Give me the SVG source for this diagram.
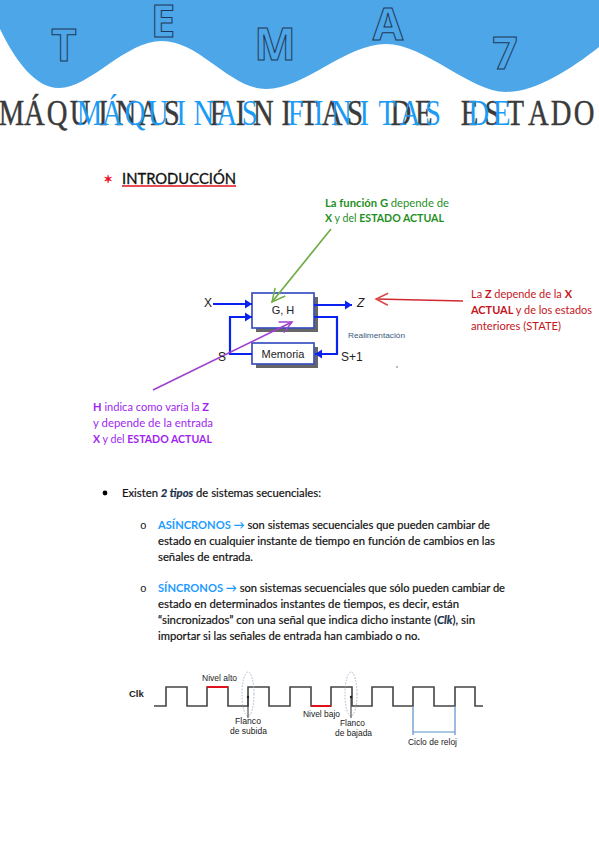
<svg xmlns="http://www.w3.org/2000/svg" width="599" height="848" viewBox="0 0 599 848">
<style>
text{font-family:"Lato","Noto Sans","Liberation Sans",sans-serif;font-size:11.5px;fill:#111;stroke:currentColor;stroke-width:0}
.big{font-family:"Noto Sans","Open Sans",sans-serif;font-size:44px;font-weight:700;fill:#4da6e8;stroke:#1f3a58;stroke-width:1;text-anchor:middle}
.ttl{font-family:"Liberation Serif",serif;font-size:35px;text-anchor:middle}
.b{font-weight:700}
.g{fill:#1f8f1f}.r{fill:#c3161c}.p{fill:#a11ff0}.c{fill:#1e9bff;font-weight:700}
.n{fill:#17365d;font-weight:700;font-style:italic}
.a{font-family:"Liberation Sans",Arial,sans-serif;fill:#222}
.d{stroke:#111;stroke-width:.2}
.box{fill:#fff;stroke:#3a4fc0;stroke-width:1.7}
.sh{fill:#666}
.w{fill:none;stroke:#0a22f0;stroke-width:2.2}
.clk{fill:none;stroke:#444;stroke-width:1.6}
.red{fill:none;stroke:#e0101c;stroke-width:2}
.oval{fill:none;stroke:#aab4cc;stroke-width:1;stroke-dasharray:1.5 1.5}
.cyc{fill:none;stroke:#5b8fc9;stroke-width:1.2}
</style>
<defs>
<marker id="bl" markerUnits="userSpaceOnUse" markerWidth="12" markerHeight="12" refX="7" refY="4.5" orient="auto" overflow="visible"><path d="M0 0L7 4.5L0 9Z" fill="#0a22f0"/></marker>
<marker id="gr" markerUnits="userSpaceOnUse" markerWidth="20" markerHeight="20" refX="0" refY="0" orient="auto" overflow="visible"><path d="M-13 -6.5L0 0L-13 6.5" fill="none" stroke="#70ad47" stroke-width="1.5"/></marker>
<marker id="rd" markerUnits="userSpaceOnUse" markerWidth="20" markerHeight="20" refX="0" refY="0" orient="auto" overflow="visible"><path d="M-12 -6L0 0L-12 6" fill="none" stroke="#d9474b" stroke-width="1.5"/></marker>
<marker id="pu" markerUnits="userSpaceOnUse" markerWidth="20" markerHeight="20" refX="0" refY="0" orient="auto" overflow="visible"><path d="M-12 -6L0 0L-12 6" fill="none" stroke="#a040d0" stroke-width="1.5"/></marker>
</defs>
<g id="header">
<path d="M0 29C15 60 35 88 59 88C90 88 125 41 162 41C200 41 230 89 266 89C305 89 345 44 386 44C425 44 470 92 506 92C535 92 570 70 599 47V0H0Z" fill="#4da6e8"/>
<text class="big" x="64" y="61">T</text>
<text class="big" x="163" y="37">E</text>
<text class="big" x="275" y="60">M</text>
<text class="big" x="388" y="40">A</text>
<text class="big" x="505" y="69">7</text>
</g>
<g id="title">
<text class="ttl" style="fill:#3a3a3a;stroke:#3a3a3a;stroke-width:.4" transform="scale(.82,1)" y="125" x="13.96 41.9 69.8 97.7 125.7 153.6 181.5 209.5 237.4 265.4 293.3 321.2 349.2 377.1 405 433 460.9 488.8 516.8 544.7 572.6 600.6 628.5 656.5 684.4 712.3">MÁQUINAS FINITAS DE ESTADO</text>
<text class="ttl" style="fill:#1c9bf5" transform="translate(78,0) scale(.82,1)" y="125" x="13.96 41.9 69.8 97.7 125.7 153.6 181.5 209.5 237.4 265.4 293.3 321.2 349.2 377.1 405 433 460.9 488.8 516.8">MÁQUINAS FINITAS DE</text>
</g>
<g id="introduccion">
<text x="108" y="183" text-anchor="middle" style="font-family:'DejaVu Sans',sans-serif;font-size:11px;fill:#e8101c;stroke:#e8101c;stroke-width:.5">✶</text>
<text x="122" y="184" textLength="114" lengthAdjust="spacingAndGlyphs" style="font-size:16px;stroke:#111;stroke-width:.35">INTRODUCCIÓN</text>
<path d="M122 186H236" stroke="#e0101c" stroke-width="1.3"/>
</g>
<g id="node-gh">
<rect class="sh" x="256" y="297" width="62" height="35"/>
<rect class="box" x="252" y="293" width="62" height="35"/>
<text class="a" x="283" y="314" text-anchor="middle" style="font-size:11px">G, H</text>
</g>
<g id="node-memoria">
<rect class="sh" x="256" y="347" width="62" height="21"/>
<rect class="box" x="252" y="343" width="62" height="21"/>
<text class="a" x="283" y="358" text-anchor="middle" style="font-size:11px">Memoria</text>
</g>
<g id="connectors">
<path class="w" d="M213 304H252" marker-end="url(#bl)"/>
<path class="w" d="M314 305H352" marker-end="url(#bl)"/>
<path class="w" d="M252 354H230V317H252" marker-end="url(#bl)"/>
<path class="w" d="M314 317H337V354H315" marker-end="url(#bl)"/>
<path d="M331 229L272 302" fill="none" stroke="#70ad47" stroke-width="1.7" marker-end="url(#gr)"/>
<path d="M463 301L376 299" fill="none" stroke="#d02a30" stroke-width="1.6" marker-end="url(#rd)"/>
<path d="M153 390L292 322" fill="none" stroke="#a040d0" stroke-width="1.7" marker-end="url(#pu)"/>
</g>
<g id="block-labels">
<text class="a" x="204" y="307" style="font-size:12px">X</text>
<text class="a" x="357" y="307" style="font-size:12px;font-style:italic">Z</text>
<text class="a" x="218" y="361" style="font-size:12px">S</text>
<text class="a" x="341" y="361" style="font-size:12px">S+1</text>
<text class="a" x="348" y="338" textLength="57" lengthAdjust="spacingAndGlyphs" style="font-size:8px;fill:#3a5a80">Realimentación</text>
<rect x="396" y="366" width="2" height="2" fill="#bbb"/>
</g>
<g id="note-green">
<text x="325" y="207" textLength="124" lengthAdjust="spacingAndGlyphs" class="g b">La función G <tspan class="g" style="font-weight:400">depende de</tspan></text>
<text x="325" y="222" textLength="119" lengthAdjust="spacingAndGlyphs" class="g"><tspan class="g b">X</tspan> y del <tspan class="g b">ESTADO ACTUAL</tspan></text>
</g>
<g id="note-red">
<text x="471" y="298" textLength="101" lengthAdjust="spacingAndGlyphs" class="r">La <tspan class="r b">Z</tspan> depende de la <tspan class="r b">X</tspan></text>
<text x="471" y="314" textLength="121" lengthAdjust="spacingAndGlyphs" class="r"><tspan class="r b">ACTUAL</tspan> y de los estados</text>
<text x="471" y="330" textLength="90" lengthAdjust="spacingAndGlyphs" class="r">anteriores (STATE)</text>
</g>
<g id="note-purple">
<text x="93" y="411" textLength="116" lengthAdjust="spacingAndGlyphs" class="p"><tspan class="p b">H</tspan> indica como varía la <tspan class="p b">Z</tspan></text>
<text x="93" y="427" textLength="120" lengthAdjust="spacingAndGlyphs" class="p">y depende de la entrada</text>
<text x="93" y="443" textLength="119" lengthAdjust="spacingAndGlyphs" class="p"><tspan class="p b">X</tspan> y del <tspan class="p b">ESTADO ACTUAL</tspan></text>
</g>
<g id="body">
<circle cx="105" cy="493" r="2.4" fill="#000"/>
<text class="d" x="122" y="497" textLength="199" lengthAdjust="spacingAndGlyphs">Existen <tspan class="n">2 tipos</tspan> de sistemas secuenciales:</text>
<text x="140" y="529" style="font-family:'Liberation Mono',monospace;font-size:11px">o</text>
<text class="d" x="158" y="529" textLength="332" lengthAdjust="spacingAndGlyphs"><tspan class="c" style="stroke:none">ASÍNCRONOS →</tspan> son sistemas secuenciales que pueden cambiar de</text>
<text class="d" x="158" y="545" textLength="337" lengthAdjust="spacingAndGlyphs">estado en cualquier instante de tiempo en función de cambios en las</text>
<text class="d" x="158" y="561" textLength="95" lengthAdjust="spacingAndGlyphs">señales de entrada.</text>
<text x="140" y="592" style="font-family:'Liberation Mono',monospace;font-size:11px">o</text>
<text class="d" x="158" y="592" textLength="347" lengthAdjust="spacingAndGlyphs"><tspan class="c" style="stroke:none">SÍNCRONOS →</tspan> son sistemas secuenciales que sólo pueden cambiar de</text>
<text class="d" x="158" y="608" textLength="301" lengthAdjust="spacingAndGlyphs">estado en determinados instantes de tiempos, es decir, están</text>
<text class="d" x="158" y="624" textLength="317" lengthAdjust="spacingAndGlyphs">“sincronizados” con una señal que indica dicho instante (<tspan class="n">Clk</tspan>), sin</text>
<text class="d" x="158" y="640" textLength="262" lengthAdjust="spacingAndGlyphs">importar si las señales de entrada han cambiado o no.</text>
</g>
<g id="clock">
<text class="a" x="129" y="697" style="font-size:9.5px;font-weight:700">Clk</text>
<path class="clk" d="M154 706H166V687H187V706H207V687H228V706H248V687H269V706H290V687H311V706H331V687H352V706H372V687H393V706H413V687H434V706H455V687H475V706H483"/>
<path class="red" d="M207 687H228M311 706H331"/>
<ellipse class="oval" cx="248" cy="694" rx="6" ry="22"/>
<ellipse class="oval" cx="351" cy="694" rx="6" ry="22"/>
<path d="M248 697V718M351 697V718" stroke="#333" stroke-width="1"/>
<circle cx="248" cy="697" r="1.2" fill="#222"/>
<circle cx="351" cy="697" r="1.2" fill="#222"/>
<path class="cyc" d="M413 706V735M455 706V735M413 732H455"/>
<text class="a" x="202" y="681" textLength="35" lengthAdjust="spacingAndGlyphs" style="font-size:8.5px">Nivel alto</text>
<text class="a" x="235" y="724" textLength="26" lengthAdjust="spacingAndGlyphs" style="font-size:8.5px">Flanco</text>
<text class="a" x="230" y="734" textLength="37" lengthAdjust="spacingAndGlyphs" style="font-size:8.5px">de subida</text>
<text class="a" x="303" y="717" textLength="37" lengthAdjust="spacingAndGlyphs" style="font-size:8.5px">Nivel bajo</text>
<text class="a" x="340" y="726" textLength="25" lengthAdjust="spacingAndGlyphs" style="font-size:8.5px">Flanco</text>
<text class="a" x="335" y="736" textLength="37" lengthAdjust="spacingAndGlyphs" style="font-size:8.5px">de bajada</text>
<text class="a" x="408" y="745" textLength="49" lengthAdjust="spacingAndGlyphs" style="font-size:8.5px">Ciclo de reloj</text>
</g>
</svg>
